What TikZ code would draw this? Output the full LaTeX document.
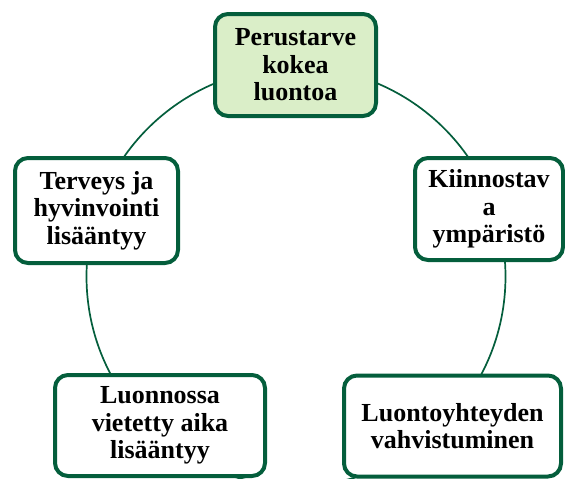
\documentclass[tikz,border=0pt]{standalone}
\usepackage{fontspec}
\setmainfont{Liberation Serif}
\definecolor{dgreen}{RGB}{4,94,60}
\definecolor{lgreen}{RGB}{218,238,200}
\begin{document}
\begin{tikzpicture}[x=1pt,y=-1pt,
  box/.style={draw=dgreen,line width=4pt,rounded corners=13pt,fill=white,
    align=center,font=\fontsize{26}{27.5}\selectfont\bfseries,inner sep=1pt},
  ring/.style={draw=dgreen,line width=1.7pt}]
\clip (0,0) rectangle (565,479);
\coordinate (c) at (296,276.5);
\draw[ring] (c) circle[radius=209.5pt];
\node[box,fill=lgreen,minimum width=161pt,minimum height=102pt] (top) at (295.5,65) {Perustarve\\kokea\\luontoa};
\node[box,minimum width=163pt,minimum height=105pt] (left) at (96.5,210.5) {Terveys ja\\hyvinvointi\\lisääntyy};
\node[box,minimum width=148pt,minimum height=102pt] (right) at (489,209) {Kiinnostav\\a\\ympäristö};
\node[box,minimum width=210pt,minimum height=101pt] (bl) at (160,425.5) {Luonnossa\\vietetty aika\\lisääntyy};
\node[box,minimum width=217pt,minimum height=101pt] (br) at (452.5,426) {Luontoyhteyden\\vahvistuminen};
\end{tikzpicture}
\end{document}
